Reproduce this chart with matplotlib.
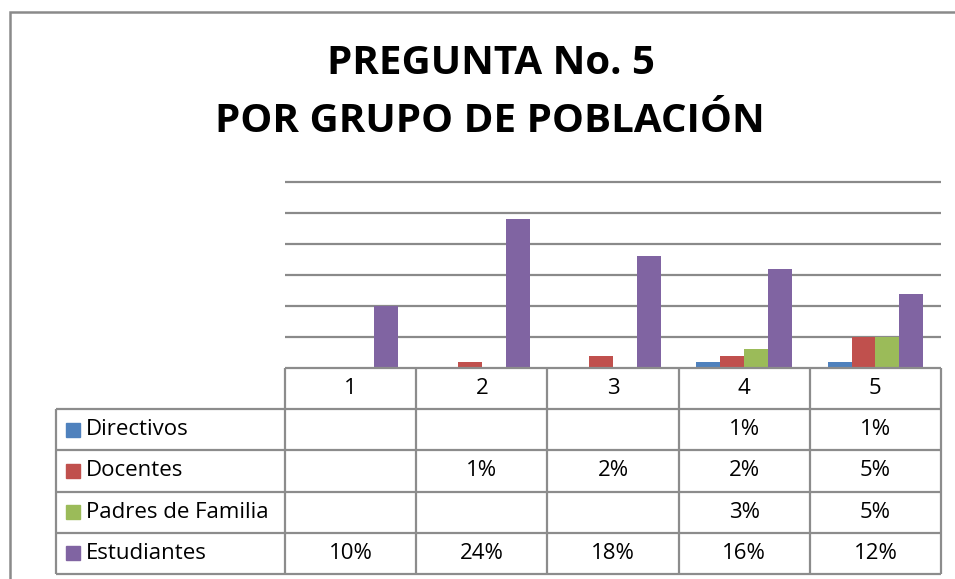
import matplotlib.pyplot as plt
from matplotlib.patches import Rectangle

# data
preguntas = ["1", "2", "3", "4", "5"]
grupos = ["Directivos", "Docentes", "Padres de Familia", "Estudiantes"]
directivos = [None, None, None, 0.01, 0.01]
docentes = [None, 0.01, 0.02, 0.02, 0.05]
padres = [None, None, None, 0.03, 0.05]
estudiantes = [0.10, 0.24, 0.18, 0.16, 0.12]
series = [directivos, docentes, padres, estudiantes]
colores = ["#4F81BD", "#C0504D", "#9BBB59", "#8064A2"]

W, H = 955, 579
fig = plt.figure(figsize=(W / 100, H / 100), dpi=100)
fig.patch.set_facecolor("white")
plt.rcParams["font.family"] = ["Open Sans", "DejaVu Sans"]

# outer chart frame (cut by the image edge on the right/bottom)
fig.patches.append(Rectangle((10 / W, -0.2), 2, 1 - 12 / H + 0.2,
                             transform=fig.transFigure, fill=False,
                             edgecolor="#8a8a8a", lw=1.8))

fig.text(491 / W, 1 - 64 / H, "PREGUNTA No. 5", ha="center", va="center",
         fontsize=29, fontweight="bold")
fig.text(490 / W, 1 - 121 / H, "POR GRUPO DE POBLACIÓN", ha="center",
         va="center", fontsize=29, fontweight="bold")


def px_axes(x0, y0, x1, y1):
    return fig.add_axes([x0 / W, 1 - y1 / H, (x1 - x0) / W, (y1 - y0) / H])


# bar chart
ax = px_axes(285, 182, 941, 368)
n = len(series)
bw = 1 / (n + 1.5)
for i, (vals, c) in enumerate(zip(series, colores)):
    xs = [k + (i - (n - 1) / 2) * bw for k, v in enumerate(vals) if v]
    hs = [v for v in vals if v]
    ax.bar(xs, hs, width=bw, color=c, zorder=3)
ax.hlines([0.05, 0.10, 0.15, 0.20, 0.25, 0.30], -0.5, 4.5, color="#8a8a8a",
          lw=1.6, clip_on=False, zorder=1)
ax.set_xlim(-0.5, 4.5)
ax.set_ylim(0, 0.30)
ax.axis("off")

# data table with legend keys
left_units = (285 - 56) / ((941 - 285) / 5)
tx = px_axes(56, 368, 941, 574)
tx.set_xlim(-0.5 - left_units, 4.5)
tx.set_ylim(0, 5)
tx.axis("off")
lc = "#8c8c8c"
tx.hlines(5, -0.5, 4.5, color=lc, lw=1.6, clip_on=False)
tx.hlines([0, 1, 2, 3, 4], -0.5 - left_units, 4.5, color=lc, lw=1.6, clip_on=False)
tx.vlines([k - 0.5 for k in range(6)], 0, 5, color=lc, lw=1.6, clip_on=False)
tx.vlines(-0.5 - left_units, 0, 4, color=lc, lw=1.6, clip_on=False)

fs = 16
for k, p in enumerate(preguntas):
    tx.text(k, 4.5, p, ha="center", va="center", fontsize=fs)

key_x = -0.5 - left_units + 17 / 131.2
for r, (g, vals, c) in enumerate(zip(grupos, series, colores)):
    y = 3.5 - r
    tx.plot([key_x], [y], marker="s", markersize=10, color=c, clip_on=False)
    tx.text(key_x + 13 / 131.2, y, g, ha="left", va="center", fontsize=fs)
    for k, v in enumerate(vals):
        if v:
            tx.text(k, y, f"{v:.0%}", ha="center", va="center", fontsize=fs)

fig.savefig("out.png", dpi=100)
